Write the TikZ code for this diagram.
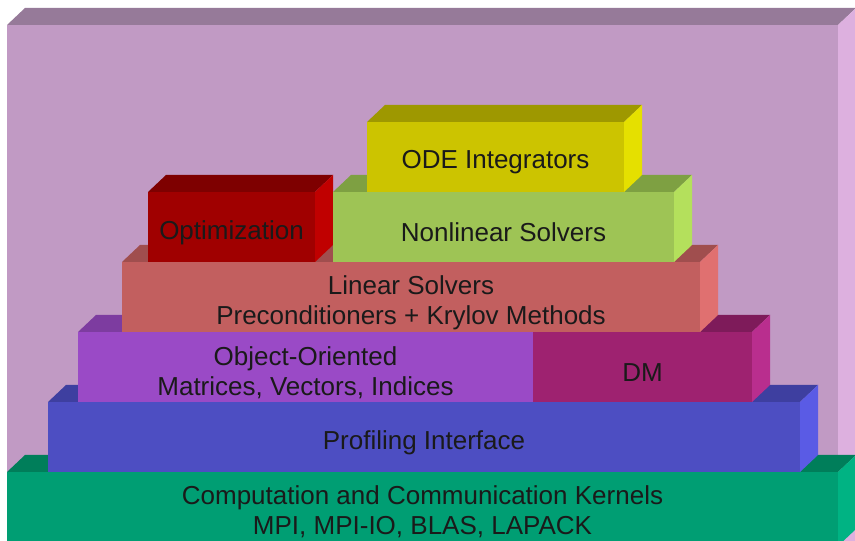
\documentclass[tikz,border=0pt]{standalone}
\usepackage{fontspec}
\setmainfont{Liberation Sans}

% face colours: front (F) / top (T) / side (S)
\definecolor{bgF}{HTML}{C19AC4}\definecolor{bgT}{HTML}{967A99}\definecolor{bgS}{HTML}{DDB0DF}
\definecolor{knF}{HTML}{009E73}\definecolor{knT}{HTML}{007E5A}\definecolor{knS}{HTML}{00B383}
\definecolor{pfF}{HTML}{4D4EC2}\definecolor{pfT}{HTML}{3E3FA0}\definecolor{pfS}{HTML}{5A5BE5}
\definecolor{ooF}{HTML}{9A4AC6}\definecolor{ooT}{HTML}{7D3CA0}\definecolor{ooS}{HTML}{AE55DC}
\definecolor{dmF}{HTML}{9E2270}\definecolor{dmT}{HTML}{7E1B5A}\definecolor{dmS}{HTML}{B92E8E}
\definecolor{lsF}{HTML}{C25F5F}\definecolor{lsT}{HTML}{A04E4E}\definecolor{lsS}{HTML}{E07070}
\definecolor{opF}{HTML}{A00000}\definecolor{opT}{HTML}{7E0000}\definecolor{opS}{HTML}{C00000}
\definecolor{nlF}{HTML}{9EC455}\definecolor{nlT}{HTML}{7EA042}\definecolor{nlS}{HTML}{B4E05C}
\definecolor{odF}{HTML}{CCC400}\definecolor{odT}{HTML}{9E9800}\definecolor{odS}{HTML}{E5E000}
\definecolor{ink}{HTML}{1A1A1A}

\tikzset{
  slabface/.style={rectangle, inner sep=0pt, outer sep=0pt, draw=none},
  slablabel/.style={inner sep=0pt, align=center, text=ink,
    font=\fontsize{26}{30}\selectfont}
}

% \slab[label drop]{name}{x1}{y1}{x2}{y2}{colour prefix}{label}
% x and y measured in pt from the top-left corner, y growing downwards
\newcommand\slab[8][5.5pt]{%
  \node[slabface, fill=#7F, minimum width={(#5-#3)*1pt}, minimum height={(#6-#4)*1pt}]
    (#2) at ({(#3+#5)/2},{541-(#4+#6)/2}) {};
  \fill[#7T] (#2.north west) -- ++(18pt,17pt) -- ([shift={(18pt,17pt)}]#2.north east)
    -- (#2.north east) -- cycle;
  \fill[#7S] (#2.north east) -- ++(18pt,17pt) -- ([shift={(18pt,17pt)}]#2.south east)
    -- (#2.south east) -- cycle;
  \node[slablabel] (#2-label) at ([yshift=-#1]#2.center) {#8};
}

\begin{document}
\begin{tikzpicture}[x=1pt,y=1pt]
  \useasboundingbox (0,0) rectangle (855,541);
  \clip (0,0) rectangle (855,541);
  \fill[white] (0,0) rectangle (855,541);

  % back wall
  \slab{wall}{7}{25}{838}{600}{bg}{}

  % layers, bottom to top
  \slab[3pt]{kernels}{7}{472}{838}{546}{kn}{Computation and Communication Kernels\\MPI, MPI-IO, BLAS, LAPACK}
  \slab{profiling}{48}{402}{800}{472}{pf}{Profiling Interface}
  \slab{objects}{78}{332}{533}{402}{oo}{Object-Oriented\\Matrices, Vectors, Indices}
  \slab{dm}{533}{332}{752}{402}{dm}{DM}
  \slab{linear}{122}{262}{700}{332}{ls}{Linear Solvers\\Preconditioners + Krylov Methods}
  \slab{optim}{148}{192}{315}{262}{op}{Optimization}
  \slab{nonlinear}{333}{192}{674}{262}{nl}{Nonlinear Solvers}
  \slab{ode}{367}{122}{624}{192}{od}{ODE Integrators}
\end{tikzpicture}
\end{document}
